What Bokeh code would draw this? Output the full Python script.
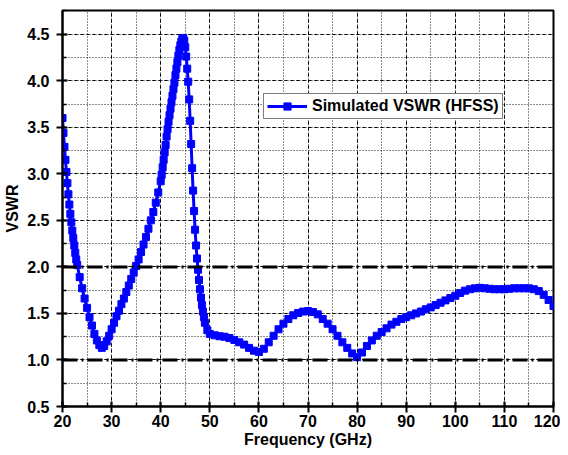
from bokeh.plotting import figure
from bokeh.models import Range1d, SingleIntervalTicker, Legend, LegendItem, Span, PrintfTickFormatter
from bokeh.embed import file_html
from bokeh.resources import INLINE

# Frequency (GHz) and simulated VSWR
freq = [20.0, 20.2, 20.4, 20.6, 20.8, 21.0, 21.2, 21.4, 21.6, 21.8, 22.0, 22.2, 22.4, 22.6, 22.8, 23.0,
        23.5, 24.0, 24.5, 25.0, 25.5, 26.0, 26.5, 27.0, 27.5, 28.0, 28.5, 29.0, 29.5, 30.0, 30.5, 31.0,
        31.5, 32.0, 32.5, 33.0, 33.5, 34.0, 34.5, 35.0, 35.5, 36.0, 36.5, 37.0, 37.5, 38.0, 38.5, 39.0,
        39.5, 40.0, 40.2, 40.4, 40.6, 40.8, 41.0, 41.2, 41.4, 41.6, 41.8, 42.0, 42.2, 42.4, 42.6, 42.8,
        43.0, 43.2, 43.4, 43.6, 43.8, 44.0, 44.2, 44.4, 44.6, 44.8, 45.0, 45.2, 45.4, 45.6, 45.8, 46.0,
        46.2, 46.4, 46.6, 46.8, 47.0, 47.2, 47.4, 47.6, 47.8, 48.0, 48.2, 48.4, 48.6, 48.8, 49.0, 49.5,
        50, 51, 52, 53, 54, 55, 56, 57, 58, 59, 60, 61, 62, 63, 64, 65, 66, 67, 68, 69, 70,
        71, 72, 73, 74, 75, 76, 77, 78, 79, 80, 81, 82, 83, 84, 85, 86, 87, 88, 89, 90,
        91, 92, 93, 94, 95, 96, 97, 98, 99, 100, 101, 102, 103, 104, 105, 106, 107, 108, 109, 110,
        111, 112, 113, 114, 115, 116, 117, 118, 119, 120]
vswr = [3.60, 3.44, 3.29, 3.15, 3.02, 2.90, 2.78, 2.67, 2.57, 2.48, 2.39, 2.31, 2.23, 2.15, 2.08, 2.02,
        1.89, 1.77, 1.66, 1.56, 1.46, 1.37, 1.28, 1.21, 1.16, 1.13, 1.15, 1.20, 1.26, 1.33, 1.40, 1.47,
        1.53, 1.60, 1.66, 1.73, 1.80, 1.87, 1.94, 2.01, 2.08, 2.16, 2.24, 2.32, 2.41, 2.50, 2.59, 2.69,
        2.80, 2.92, 2.99, 3.07, 3.15, 3.23, 3.31, 3.40, 3.48, 3.56, 3.63, 3.70, 3.77, 3.84, 3.91, 3.98,
        4.06, 4.13, 4.20, 4.27, 4.33, 4.38, 4.42, 4.45, 4.46, 4.43, 4.36, 4.26, 4.13, 3.99, 3.80, 3.57,
        3.32, 3.06, 2.82, 2.60, 2.40, 2.23, 2.09, 1.97, 1.86, 1.76, 1.67, 1.59, 1.52, 1.46, 1.40, 1.32,
        1.28, 1.265, 1.255, 1.25, 1.235, 1.215, 1.19, 1.165, 1.13, 1.10, 1.085, 1.12, 1.19, 1.26, 1.33, 1.39, 1.44, 1.48, 1.505, 1.52, 1.525,
        1.515, 1.49, 1.44, 1.39, 1.33, 1.26, 1.19, 1.13, 1.07, 1.03, 1.08, 1.15, 1.21, 1.26, 1.30, 1.34, 1.38, 1.41, 1.44, 1.46,
        1.48, 1.50, 1.52, 1.545, 1.565, 1.59, 1.615, 1.64, 1.665, 1.69, 1.72, 1.745, 1.76, 1.77, 1.775, 1.77, 1.765, 1.76, 1.76, 1.76,
        1.765, 1.77, 1.77, 1.77, 1.77, 1.76, 1.74, 1.70, 1.645, 1.58]

ref_levels = [1.0, 2.0]
series_name = "Simulated VSWR (HFSS)"
x_title = "Frequency (GHz)"
y_title = "VSWR"

FONT = "Liberation Sans"

p = figure(width=560, height=452, output_backend="svg", toolbar_location=None,
           x_range=Range1d(20, 120), y_range=Range1d(0.5, 4.755),
           min_border_left=62, min_border_right=7, min_border_top=10, min_border_bottom=46)

p.background_fill_color = "white"
p.border_fill_color = "white"
p.outline_line_color = "black"
p.outline_line_width = 2

p.xaxis.ticker = SingleIntervalTicker(interval=10, num_minor_ticks=2)
p.yaxis.ticker = SingleIntervalTicker(interval=0.5, num_minor_ticks=2)
p.yaxis.formatter = PrintfTickFormatter(format="%.1f")

for ax in (p.xaxis[0], p.yaxis[0]):
    ax.axis_line_width = 2
    ax.major_tick_line_width = 2
    ax.minor_tick_line_width = 1.5
    ax.major_tick_in = 5
    ax.major_tick_out = 6
    ax.minor_tick_in = 4
    ax.minor_tick_out = 0
    ax.major_label_text_font = FONT
    ax.major_label_text_font_style = "bold"
    ax.major_label_text_font_size = "16px"
    ax.major_label_text_color = "black"
    ax.axis_label_text_font = FONT
    ax.axis_label_text_font_style = "bold"
    ax.axis_label_text_font_size = "16px"
    ax.axis_label_text_color = "black"

p.xaxis.axis_label = x_title
p.yaxis.axis_label = y_title
p.xaxis.major_label_standoff = 2
p.xaxis.axis_label_standoff = 1
p.yaxis.major_label_standoff = 7
p.yaxis.axis_label_standoff = 3

for g in (p.xgrid[0], p.ygrid[0]):
    g.grid_line_color = "black"
    g.grid_line_alpha = 1.0
    g.grid_line_dash = "3 3"
    g.grid_line_width = 1
    g.minor_grid_line_color = "black"
    g.minor_grid_line_alpha = 0.9
    g.minor_grid_line_dash = "1 2"
    g.minor_grid_line_width = 1

for lv in ref_levels:
    p.add_layout(Span(location=lv, dimension="width", line_color="black",
                      line_width=3, line_dash="15 4 2 4"))

ln = p.line(freq, vswr, line_color="#0000FF", line_width=3)
sc = p.scatter(freq, vswr, marker="square", size=7, fill_color="#0000FF",
               line_color="#0000FF", line_width=1)

legend = Legend(items=[LegendItem(label=series_name, renderers=[ln, sc])],
                location=(201, 287), orientation="vertical")
legend.label_text_font = FONT
legend.label_text_font_style = "bold"
legend.label_text_font_size = "16px"
legend.label_text_color = "black"
legend.glyph_width = 40
legend.glyph_height = 18
legend.label_standoff = 5
legend.padding = 3
legend.margin = 0
legend.spacing = 0
legend.border_line_color = "black"
legend.border_line_width = 1
legend.background_fill_alpha = 1
p.add_layout(legend, "center")

open("out.html", "w").write(file_html(p, INLINE))
